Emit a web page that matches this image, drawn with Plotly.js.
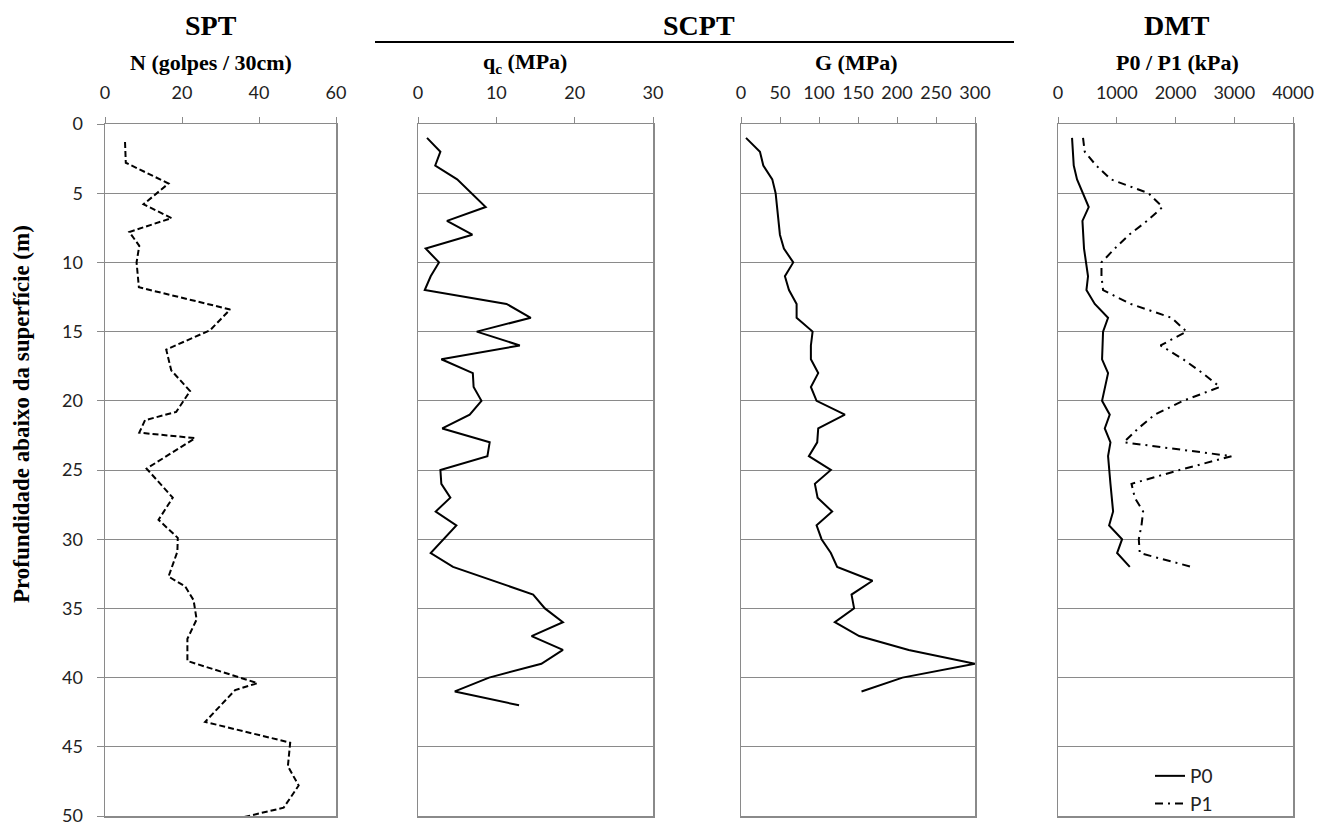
<!DOCTYPE html>
<html>
<head>
<meta charset="utf-8">
<script src="https://cdn.plot.ly/plotly-3.0.1.min.js"></script>
<style>html,body{margin:0;padding:0;background:#fff;}</style>
</head>
<body>
<div id="chart" style="width:1330px;height:826px;"></div>
<script>
// SPT
const sptDepth = [1.3, 2.8, 4.3, 5.8, 6.8, 7.8, 8.8, 10.0, 11.8, 13.4, 14.9, 16.3, 17.8, 19.3, 20.8, 21.4, 22.3, 22.7, 24.9, 27.0, 28.6, 29.9, 30.9, 32.7, 33.4, 34.4, 35.8, 37.2, 38.8, 40.4, 40.9, 43.2, 44.7, 46.4, 47.8, 49.4, 50.2];
const sptN     = [5.2, 5.4, 16.5, 10.0, 17.3, 6.3, 8.9, 8.2, 8.8, 32.5, 27.3, 15.9, 17.2, 22.1, 18.5, 10.4, 8.9, 23.4, 10.8, 17.6, 13.9, 18.9, 18.8, 16.5, 20.8, 23.0, 23.8, 21.4, 21.4, 39.6, 33.8, 26.0, 48.1, 47.5, 50.3, 46.4, 34.2];

// SCPT - qc
const qcDepth = [1, 2, 3, 4, 6, 7, 8, 9, 10, 11, 12, 13, 14, 15, 16, 17, 18, 19, 20, 21, 22, 23, 24, 25, 26, 27, 28, 29, 31, 32, 34, 35, 36, 37, 38, 39, 40, 41, 42];
const qcVal   = [1.15, 2.86, 2.2, 5.0, 8.64, 3.7, 6.94, 0.98, 2.68, 1.62, 0.86, 11.3, 14.4, 7.5, 13.0, 2.98, 7.0, 7.1, 8.1, 6.6, 3.1, 9.15, 8.86, 2.86, 2.98, 4.13, 2.26, 4.9, 1.62, 4.47, 14.7, 16.2, 18.5, 14.5, 18.5, 15.75, 9.07, 4.7, 12.9];

// SCPT - G
const gDepth = [1, 2, 3, 4, 5, 6, 7, 8, 9, 10, 11, 12, 13, 14, 15, 16, 17, 18, 19, 20, 21, 22, 23, 24, 25, 26, 27, 28, 29, 30, 31, 32, 33, 34, 35, 36, 37, 38, 39, 40, 41];
const gVal   = [6.4, 24.3, 28.6, 40.1, 44.4, 46.5, 47.8, 49.9, 55, 67, 56.3, 61.5, 71.3, 71.3, 91.8, 89.6, 89.6, 99, 89.6, 96.9, 133.2, 99, 97.7, 87, 115.2, 94.7, 98.2, 116.9, 96.9, 103.3, 115.2, 123.3, 168.6, 141.7, 145, 120.3, 151.5, 215, 300, 207, 154.5];

// DMT
const p0Depth = [1, 3, 4, 5, 6, 7, 9, 11, 12, 13, 14, 15, 17, 18, 20, 21, 22, 23, 24, 26, 28, 29, 30, 31, 32];
const p0Val   = [239, 268, 324, 426, 523, 416, 443, 511, 484, 626, 852, 767, 750, 852, 750, 881, 796, 893, 852, 893, 938, 870, 1091, 1006, 1222];
const p1Depth = [1, 2, 3, 4, 5, 6, 7, 8, 9, 10, 11, 12, 13, 14, 15, 16, 17, 18, 19, 20, 21, 22, 23, 24, 25, 26, 27, 28, 29, 30, 31, 32];
const p1Val   = [426, 455, 650, 900, 1540, 1780, 1517, 1210, 966, 740, 740, 767, 1234, 1933, 2188, 1745, 2131, 2461, 2756, 2131, 1648, 1364, 1120, 2955, 2069, 1251, 1307, 1449, 1421, 1375, 1392, 2273];

const xTickN  = [0, 20, 40, 60];
const xTickQc = [0, 10, 20, 30];
const xTickG  = [0, 50, 100, 150, 200, 250, 300];
const xTickP  = [0, 1000, 2000, 3000, 4000];
const yTicks  = [0, 5, 10, 15, 20, 25, 30, 35, 40, 45, 50];

const W = 1330, H = 826, T = 124, B = 10;
const px = v => v / W;
const py = v => (H - B - v) / (H - T - B);

const traces = [
  {x: sptN, y: sptDepth, xaxis: 'x', yaxis: 'y', mode: 'lines', name: 'N', showlegend: false,
   line: {color: '#000', width: 2, dash: '6px,3px'}},
  {x: qcVal, y: qcDepth, xaxis: 'x2', yaxis: 'y2', mode: 'lines', name: 'qc', showlegend: false,
   line: {color: '#000', width: 2}},
  {x: gVal, y: gDepth, xaxis: 'x3', yaxis: 'y3', mode: 'lines', name: 'G', showlegend: false,
   line: {color: '#000', width: 2}},
  {x: p0Val, y: p0Depth, xaxis: 'x4', yaxis: 'y4', mode: 'lines', name: 'P0',
   line: {color: '#000', width: 2}},
  {x: p1Val, y: p1Depth, xaxis: 'x4', yaxis: 'y4', mode: 'lines', name: 'P1',
   line: {color: '#000', width: 2, dash: '8px,5px,2px,5px'}}
];

const grid = '#8a8a8a';
const tickFont = {family: 'Lato, "Open Sans", sans-serif', size: 18, color: '#222'};

function xa(dom, range, vals, yname) {
  return {
    domain: [px(dom[0]), px(dom[1])], range: range, anchor: yname, side: 'top',
    tickmode: 'array', tickvals: vals, ticktext: vals.map(String),
    showgrid: false, zeroline: false, showline: true, linecolor: grid, linewidth: 1.5, mirror: true,
    ticks: 'outside', ticklen: 6, tickcolor: grid, tickwidth: 1,
    tickfont: tickFont, ticklabelstandoff: 10, ticklabeloverflow: 'allow', fixedrange: true
  };
}
function ya(xname, showLabels) {
  return {
    domain: [0, 1], range: [50, 0], anchor: xname,
    tickmode: 'array', tickvals: yTicks, ticktext: yTicks.map(String),
    showgrid: true, gridcolor: grid, gridwidth: 1, zeroline: false,
    showline: true, linecolor: grid, linewidth: 1.5, mirror: true,
    ticks: showLabels ? 'outside' : '', ticklen: 7, tickcolor: grid,
    showticklabels: showLabels, tickfont: tickFont, ticklabelstandoff: 10,
    ticklabeloverflow: 'allow', fixedrange: true
  };
}

const serif = 'Liberation Serif, "Times New Roman", serif';
function ann(text, x, y, size, angle) {
  return {text: text, xref: 'paper', yref: 'paper', x: px(x), y: py(y), showarrow: false,
          xanchor: 'center', yanchor: 'middle', textangle: angle || 0,
          font: {family: serif, size: size, color: '#000'}};
}

const layout = {
  width: W, height: H,
  margin: {l: 0, r: 0, t: T, b: B, pad: 0},
  paper_bgcolor: '#fff', plot_bgcolor: '#fff',
  showlegend: true,
  legend: {x: px(1150), xanchor: 'left', y: py(757), yanchor: 'top',
           font: {family: 'Lato, "Open Sans", sans-serif', size: 19, color: '#222'},
           bgcolor: 'rgba(0,0,0,0)', borderwidth: 0, traceorder: 'normal'},
  xaxis:  xa([105, 336], [0, 60], xTickN, 'y'),
  xaxis2: xa([418, 653], [0, 30], xTickQc, 'y2'),
  xaxis3: xa([741, 975], [0, 300], xTickG, 'y3'),
  xaxis4: xa([1058, 1293], [0, 4000], xTickP, 'y4'),
  yaxis:  ya('x', true),
  yaxis2: ya('x2', false),
  yaxis3: ya('x3', false),
  yaxis4: ya('x4', false),
  annotations: [
    ann('<b>SPT</b>', 211, 26, 28),
    ann('<b>N (golpes / 30cm)</b>', 211, 63, 22),
    ann('<b>SCPT</b>', 699, 26, 28),
    ann('<b>q<sub>c</sub> (MPa)</b>', 525, 63, 22),
    ann('<b>G (MPa)</b>', 856, 63, 22),
    ann('<b>DMT</b>', 1177, 26, 28),
    ann('<b>P0 / P1 (kPa)</b>', 1177, 63, 22),
    ann('<b>Profundidade abaixo da superfície (m)</b>', 21, 414, 23, -90)
  ],
  shapes: [
    {type: 'line', xref: 'paper', yref: 'paper', x0: px(375), x1: px(1014), y0: py(42), y1: py(42),
     line: {color: '#000', width: 2}}
  ]
};

Plotly.newPlot('chart', traces, layout, {displayModeBar: false, staticPlot: true});
</script>
</body>
</html>
